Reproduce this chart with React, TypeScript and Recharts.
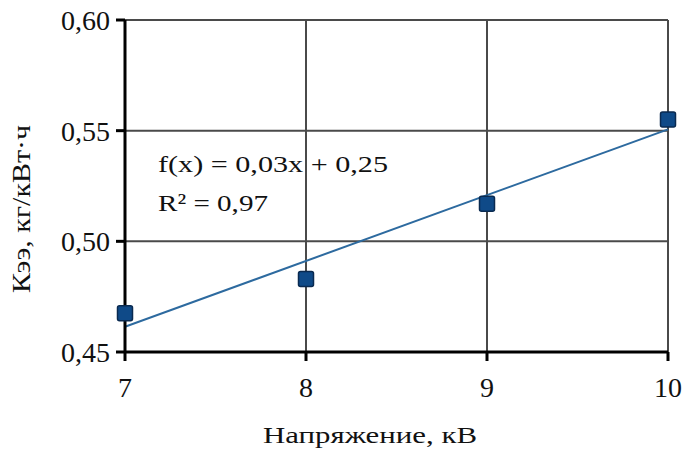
import { ComposedChart, Scatter, Line, XAxis, YAxis, CartesianGrid, Customized } from 'recharts'

// measured points (voltage, kV -> Кээ)
const voltage = [7, 8, 9, 10]
const kee = [0.4675, 0.483, 0.517, 0.555]

// linear trend as drawn on the picture
const trendX = [7, 10]
const trendY = [0.4614, 0.5506]

const xTicks = [7, 8, 9, 10]
const yTicks = [0.45, 0.5, 0.55, 0.6]

const points = voltage.map((x, i) => ({ x, y: kee[i] }))
const trend = trendX.map((x, i) => ({ x, y: trendY[i] }))

const FONT = '"Liberation Serif", "Times New Roman", serif'

const SquareDot = (props: any) => {
  const { cx, cy } = props
  const s = 15
  return (
    <rect
      x={cx - s / 2}
      y={cy - s / 2}
      width={s}
      height={s}
      rx={2}
      fill="#0f4a88"
      stroke="#0a2a50"
      strokeWidth={1.5}
    />
  )
}

// the scan is a bit stretched, so text lengths are pinned to the picture
const Equation = () => (
  <g fontFamily={FONT} fontSize={24} fill="#111">
    <text x={158} y={172} textLength={230} lengthAdjust="spacingAndGlyphs">
      f(x) = 0,03x + 0,25
    </text>
    <text x={158} y={211} textLength={110} lengthAdjust="spacingAndGlyphs">
      R² = 0,97
    </text>
  </g>
)

export default function App() {
  return (
    <div style={{ position: 'absolute', left: 0, top: 0, background: '#fff' }}>
      <ComposedChart
        width={684}
        height={452}
        margin={{ top: 20, right: 16, left: 0, bottom: 30 }}
      >
        <CartesianGrid stroke="#4a4a4a" strokeWidth={2} />
        <XAxis
          type="number"
          dataKey="x"
          domain={[7, 10]}
          ticks={xTicks}
          height={70}
          axisLine={{ stroke: '#000', strokeWidth: 3 }}
          tickLine={{ stroke: '#000', strokeWidth: 3 }}
          tickSize={9}
          tickMargin={16}
          tick={{ fill: '#111', fontSize: 28, fontFamily: FONT }}
          label={{
            content: () => (
              <text
                x={370}
                y={443}
                textAnchor="middle"
                fontFamily={FONT}
                fontSize={24}
                fill="#111"
                textLength={214}
                lengthAdjust="spacingAndGlyphs"
              >
                Напряжение, кВ
              </text>
            ),
          }}
        />
        <YAxis
          type="number"
          dataKey="y"
          domain={[0.45, 0.6]}
          ticks={yTicks}
          width={125}
          axisLine={{ stroke: '#000', strokeWidth: 3 }}
          tickLine={{ stroke: '#000', strokeWidth: 3 }}
          tickSize={9}
          tickMargin={6}
          tickFormatter={(v: number) => v.toFixed(2).replace('.', ',')}
          tick={{ fill: '#111', fontSize: 28, fontFamily: FONT }}
          label={{
            content: () => (
              <text
                x={30}
                y={209}
                transform="rotate(-90 30 209)"
                textAnchor="middle"
                fontFamily={FONT}
                fontSize={25}
                fill="#111"
                textLength={168}
                lengthAdjust="spacingAndGlyphs"
              >
                Кээ, кг/кВт·ч
              </text>
            ),
          }}
        />
        <Line
          data={trend}
          dataKey="y"
          type="linear"
          stroke="#2d6a9f"
          strokeWidth={2}
          dot={false}
          activeDot={false}
          isAnimationActive={false}
        />
        <Scatter data={points} dataKey="y" shape={SquareDot} isAnimationActive={false} />
        <Customized component={Equation} />
      </ComposedChart>
    </div>
  )
}
